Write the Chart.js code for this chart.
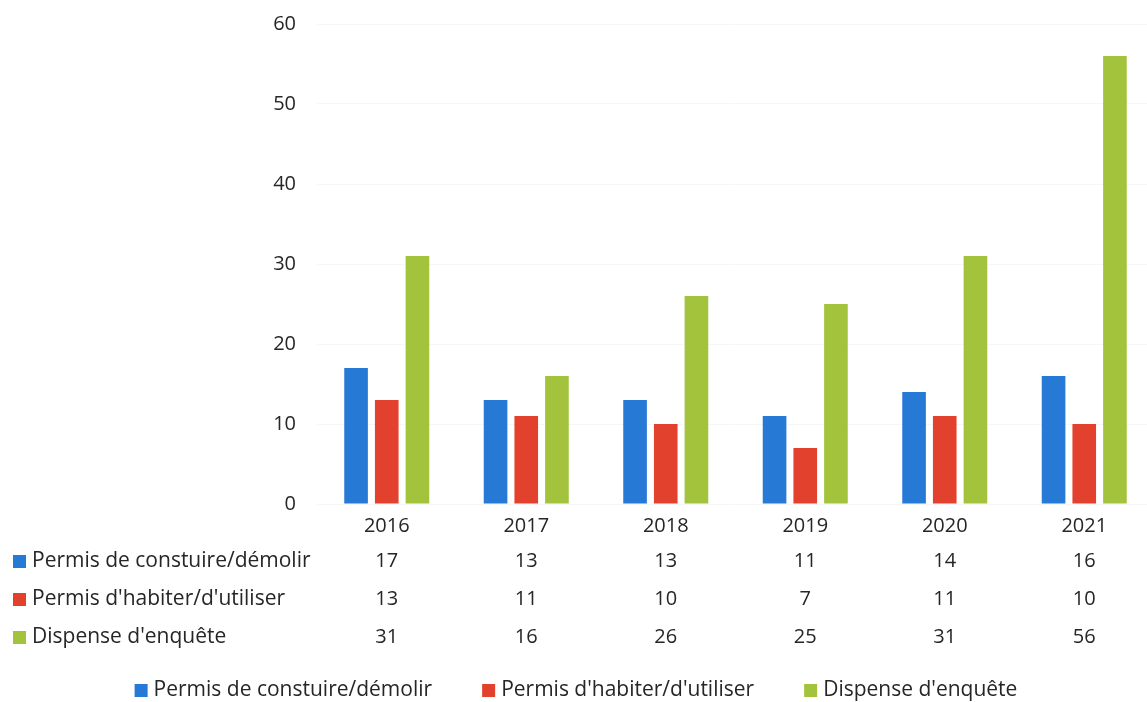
<!DOCTYPE html>
<html><head><meta charset="utf-8">
<script src="https://cdn.jsdelivr.net/npm/chart.js@4/dist/chart.umd.min.js"></script>
<style>
html,body{margin:0;padding:0;background:#fff;overflow:hidden;}
#wrap{width:1160px;height:702px;position:relative;}
</style></head>
<body><div id="wrap"><canvas id="c"></canvas></div>
<script>
const categories = ['2016','2017','2018','2019','2020','2021'];
const seriesNames = ['Permis de constuire/démolir', "Permis d'habiter/d'utiliser", "Dispense d'enquête"];
const construire = [17, 13, 13, 11, 14, 16];
const habiter = [13, 11, 10, 7, 11, 10];
const dispense = [31, 16, 26, 25, 31, 56];
const yTicks = [0, 10, 20, 30, 40, 50, 60];
const colors = ['#2779d6', '#e2412e', '#a2c33b'];
const FONT = 'Open Sans';
const TXT = '#262626';

const tablePlugin = {
  id: 'tableLegend',
  afterDraw(chart) {
    const ctx = chart.ctx;
    const xs = chart.scales.x;
    ctx.save();
    ctx.textBaseline = 'middle';
    const rowY = [561, 599, 637];
    chart.data.datasets.forEach((ds, i) => {
      const y = rowY[i];
      ctx.fillStyle = ds.backgroundColor;
      ctx.fillRect(13, y - 6, 13, 13);
      ctx.fillStyle = TXT;
      ctx.textAlign = 'left';
      ctx.font = '21px "' + FONT + '"';
      ctx.fillText(ds.label, 32, y);
      ctx.textAlign = 'center';
      ctx.font = '20px "' + FONT + '"';
      ds.data.forEach((v, j) => {
        ctx.fillText(String(v), xs.getPixelForValue(j), y);
      });
    });
    // bottom legend
    ctx.font = '21px "' + FONT + '"';
    const ly = 690;
    const gap = 50;
    const widths = chart.data.datasets.map(ds => 13 + 6 + ctx.measureText(ds.label).width);
    const total = widths.reduce((a, b) => a + b, 0) + gap * (widths.length - 1);
    let x = 576 - total / 2;
    chart.data.datasets.forEach((ds, i) => {
      ctx.fillStyle = ds.backgroundColor;
      ctx.fillRect(x, ly - 6, 13, 13);
      ctx.fillStyle = TXT;
      ctx.textAlign = 'left';
      ctx.fillText(ds.label, x + 19, ly);
      x += widths[i] + gap;
    });
    ctx.restore();
  }
};

new Chart(document.getElementById('c'), {
  type: 'bar',
  data: {
    labels: categories,
    datasets: [
      { label: seriesNames[0], data: construire, backgroundColor: colors[0] },
      { label: seriesNames[1], data: habiter, backgroundColor: colors[1] },
      { label: seriesNames[2], data: dispense, backgroundColor: colors[2] }
    ]
  },
  options: {
    responsive: true,
    maintainAspectRatio: false,
    animation: false,
    layout: { padding: { top: 24, right: 6, left: 0, bottom: 0 } },
    datasets: { bar: { categoryPercentage: 0.66, barPercentage: 0.77 } },
    plugins: { legend: { display: false }, tooltip: { enabled: false } },
    scales: {
      x: {
        grid: { display: false, drawTicks: false },
        border: { display: false },
        ticks: { color: TXT, font: { family: FONT, size: 20 }, padding: 10 },
        afterFit: a => { a.height = 198; }
      },
      y: {
        min: 0, max: 60,
        afterBuildTicks: a => { a.ticks = yTicks.map(v => ({ value: v })); },
        grid: { color: 'rgba(0,0,0,0.035)', drawTicks: false },
        border: { display: false },
        ticks: { color: TXT, font: { family: FONT, size: 20 }, padding: 21 },
        afterFit: a => { a.width = 317; a.paddingTop = 0; a.paddingBottom = 0; }
      }
    }
  },
  plugins: [tablePlugin]
});
</script></body></html>
